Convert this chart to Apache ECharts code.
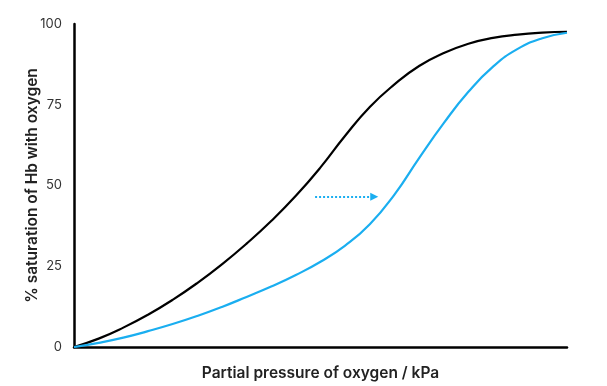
<!DOCTYPE html>
<html>
<head>
<meta charset="utf-8">
<script src="https://cdn.jsdelivr.net/npm/echarts@6/dist/echarts.min.js"></script>
<style>html,body{margin:0;padding:0;background:#fff}#c{width:607px;height:386px}</style>
</head>
<body>
<div id="c"></div>
<script>
// Partial pressure (arbitrary units 0-100, no scale shown)
const pressure = [0,5,10,15,20,25,30,35,40,45,50,55,60,65,70,75,80,85,90,95,100];
// % saturation, normal curve (black)
const normalSat = [0,2.6,6.0,10.0,14.6,19.8,25.6,32.0,39.0,46.8,55.6,65.4,74.3,81.3,87.0,91.0,93.9,95.7,96.7,97.3,97.6];
// % saturation, curve shifted right (blue)
const shiftedSat = [0,1.3,2.9,4.9,7.1,9.6,12.4,15.5,18.7,22.3,26.4,31.4,38.0,47.2,58.5,69.3,79.0,86.8,92.3,95.6,97.3];
const arrowStart = [48.9, 46.5];
const arrowEnd = [60.9, 46.5];
const yTicks = [0, 25, 50, 75, 100];
const xTitle = 'Partial pressure of oxygen / kPa';
const yTitle = '% saturation of Hb with oxygen';

const pairs = ys => pressure.map((x, i) => [x, ys[i]]);

const chart = echarts.init(document.getElementById('c'), null, {renderer: 'canvas'});
chart.setOption({
  animation: false,
  grid: {left: 74, right: 40, top: 24, bottom: 32},
  xAxis: {
    type: 'value', min: 0, max: 100,
    name: xTitle, nameLocation: 'middle', nameGap: 18,
    nameTextStyle: {fontFamily: 'Inter', fontWeight: 600, fontSize: 15.5, color: '#222'},
    axisLine: {show: true, lineStyle: {color: '#000', width: 2.5}},
    axisTick: {show: false}, axisLabel: {show: false}, splitLine: {show: false}
  },
  yAxis: {
    type: 'value', min: 0, max: 100, interval: 25,
    name: yTitle, nameLocation: 'middle', nameGap: 34, nameRotate: 90,
    nameMoveOverlap: false,
    nameTextStyle: {fontFamily: 'Inter', fontWeight: 600, fontSize: 15.5, color: '#222'},
    axisLine: {show: true, lineStyle: {color: '#000', width: 2.5}},
    axisTick: {show: false},
    axisLabel: {fontFamily: 'Inter', fontSize: 13, color: '#333', margin: 12,
      formatter: v => yTicks.includes(v) ? String(v) : ''},
    splitLine: {show: false}
  },
  series: [
    {type: 'line', data: pairs(normalSat), smooth: 0.5, symbol: 'none',
     lineStyle: {color: '#000', width: 2.2}},
    {type: 'line', data: pairs(shiftedSat), smooth: 0.5, symbol: 'none',
     lineStyle: {color: '#1aaef0', width: 2.2},
     markLine: {
       silent: true, symbol: ['none', 'triangle'], symbolSize: [8, 8],
       label: {show: false},
       lineStyle: {color: '#1aaef0', type: [2, 2], width: 2},
       data: [[{coord: arrowStart}, {coord: arrowEnd}]]
     }}
  ]
});
</script>
</body>
</html>
